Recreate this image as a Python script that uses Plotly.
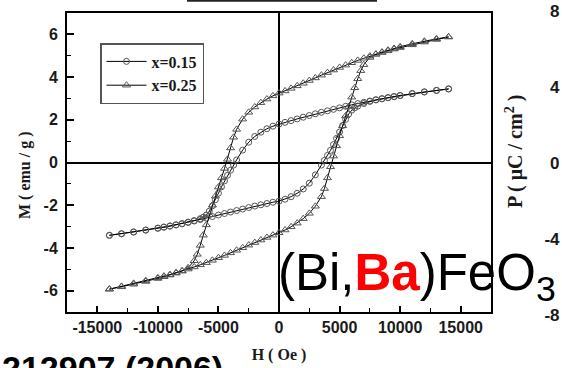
import plotly.graph_objects as go

# ---------------- data ----------------
# x = 0.15 (circles) : descending branch then ascending branch
H_015_DOWN = [14000, 13000, 12000, 11000,
              10000, 9500, 9000, 8500, 8000, 7500, 7000, 6500, 6000, 5500,
              5000, 4500, 4000, 3500, 3000, 2500, 2000, 1500, 1000, 500,
              0, -500, -1000, -1500, -2000, -2500, -3000, -3500,
              -3750, -4000, -4250, -4500, -4750, -5000, -5250, -5500, -5750, -6000, -6250, -6500,
              -7000, -7500, -8000, -8500, -9000, -9500, -10000,
              -11000, -12000, -13000, -14000]
M_015_DOWN = [3.45, 3.38, 3.31, 3.23,
              3.14, 3.09, 3.04, 2.99, 2.94, 2.88, 2.82, 2.76, 2.70, 2.63,
              2.56, 2.49, 2.42, 2.35, 2.28, 2.20, 2.12, 2.04, 1.96, 1.88,
              1.80, 1.70, 1.58, 1.42, 1.22, 0.95, 0.58, 0.12,
              -0.12, -0.36, -0.60, -0.86, -1.14, -1.44, -1.74, -2.03, -2.28, -2.46, -2.56, -2.63,
              -2.72, -2.79, -2.86, -2.92, -2.97, -3.02, -3.07,
              -3.16, -3.25, -3.33, -3.41]
H_015_UP = [-14000, -13000, -12000, -11000,
            -10000, -9500, -9000, -8500, -8000, -7500, -7000, -6500, -6000, -5500,
            -5000, -4500, -4000, -3500, -3000, -2500, -2000, -1500, -1000, -500,
            0, 500, 1000, 1500, 2000, 2500, 3000, 3500,
            3750, 4000, 4250, 4500, 4750, 5000, 5250, 5500, 5750, 6000, 6250, 6500,
            7000, 7500, 8000, 8500, 9000, 9500, 10000,
            11000, 12000, 13000, 14000]
M_015_UP = [-3.41, -3.34, -3.26, -3.17,
            -3.08, -3.03, -2.98, -2.92, -2.87, -2.81, -2.74, -2.67, -2.60, -2.53,
            -2.46, -2.39, -2.32, -2.25, -2.18, -2.11, -2.04, -1.98, -1.92, -1.86,
            -1.81, -1.72, -1.60, -1.44, -1.24, -0.97, -0.58, -0.12,
            0.10, 0.33, 0.57, 0.84, 1.13, 1.43, 1.73, 2.02, 2.27, 2.45, 2.56, 2.64,
            2.76, 2.86, 2.93, 2.98, 3.03, 3.08, 3.13,
            3.22, 3.30, 3.37, 3.44]

# x = 0.25 (triangles)
H_025_DOWN = [14000, 13000, 12000, 11000, 10000,
              9500, 9000, 8500, 8000, 7500, 7000, 6500, 6000, 5500, 5000, 4500, 4000, 3500,
              3000, 2500, 2000, 1500, 1000, 500, 0, -500, -1000, -1500, -2000, -2500, -3000, -3500,
              -3750, -4000, -4250, -4500, -4750, -5000, -5250, -5500, -5750, -6000, -6250, -6500, -6750, -7000,
              -7500, -8000, -8500, -9000, -9500, -10000,
              -11000, -12000, -13000, -14000]
M_025_DOWN = [5.88, 5.76, 5.64, 5.51, 5.38,
              5.31, 5.23, 5.15, 5.07, 4.98, 4.88, 4.78, 4.67, 4.56, 4.45, 4.33, 4.21, 4.09,
              3.96, 3.84, 3.71, 3.59, 3.47, 3.35, 3.25, 3.12, 2.97, 2.80, 2.60, 2.35, 2.03, 1.55,
              1.18, 0.68, 0.15, -0.28, -0.72, -1.15, -1.58, -2.00, -2.45, -2.92, -3.40, -3.88, -4.30, -4.60,
              -4.93, -5.08, -5.18, -5.27, -5.35, -5.43,
              -5.57, -5.70, -5.82, -5.93]
H_025_UP = [-14000, -13000, -12000, -11000, -10000,
            -9500, -9000, -8500, -8000, -7500, -7000, -6500, -6000, -5500, -5000, -4500, -4000, -3500,
            -3000, -2500, -2000, -1500, -1000, -500, 0, 500, 1000, 1500, 2000, 2500, 3000, 3500,
            3750, 4000, 4250, 4500, 4750, 5000, 5250, 5500, 5750, 6000, 6250, 6500, 6750, 7000,
            7500, 8000, 8500, 9000, 9500, 10000,
            11000, 12000, 13000, 14000]
M_025_UP = [-5.93, -5.80, -5.66, -5.53, -5.40,
            -5.32, -5.25, -5.16, -5.08, -4.99, -4.89, -4.79, -4.69, -4.58, -4.46, -4.35, -4.23, -4.11,
            -3.99, -3.87, -3.75, -3.63, -3.51, -3.40, -3.29, -3.16, -3.01, -2.84, -2.63, -2.38, -2.05, -1.60,
            -1.22, -0.72, -0.20, 0.30, 0.78, 1.25, 1.72, 2.18, 2.62, 3.06, 3.50, 3.92, 4.30, 4.58,
            4.92, 5.07, 5.17, 5.26, 5.34, 5.42,
            5.56, 5.68, 5.79, 5.88]

SERIES_NAMES = ["x=0.15", "x=0.25"]

X_TICKVALS = [-15000, -10000, -5000, 0, 5000, 10000, 15000]
X_TICKTEXT = ["-15000", "-10000", "-5000", "0", "5000", "10000", "15000"]
Y_TICKVALS = [-6, -4, -2, 0, 2, 4, 6]
Y_TICKTEXT = ["-6", "-4", "-2", "0", "2", "4", "6"]
P_TICKVALS = [8, 4, 0, -4, -8]
P_TICKTEXT = ["8", "4", "0", "-4", "-8"]

X_TITLE = "H ( Oe )"
Y_TITLE = "M ( emu / g )"
P_TITLE = "P ( μC / cm<sup>2</sup> )"
FORMULA = "(Bi,<b><span style='color:#ff0000'>Ba</span></b>)FeO<sub>3</sub>"
CITATION = "212907 (2006)"

# ---------------- layout helpers ----------------
W, HGT = 562, 368
ML, MR, MT, MB = 67, 0, 10, 40
PW, PH = W - ML - MR, HGT - MT - MB


def fx(px):
    return (px - ML) / PW


def fy(py):
    return (HGT - MB - py) / PH


fig = go.Figure()
fig.add_trace(go.Scatter(
    x=H_015_DOWN + H_015_UP, y=M_015_DOWN + M_015_UP, name=SERIES_NAMES[0],
    mode="lines+markers", line=dict(color="black", width=1),
    marker=dict(symbol="circle-open", size=6, color="#555555", line=dict(width=1))))
fig.add_trace(go.Scatter(
    x=H_025_DOWN + H_025_UP, y=M_025_DOWN + M_025_UP, name=SERIES_NAMES[1],
    mode="lines+markers", line=dict(color="black", width=1),
    marker=dict(symbol="triangle-up-open", size=7, color="#555555", line=dict(width=1))))
# empty trace so that the partial right-hand P axis is drawn
fig.add_trace(go.Scatter(x=[], y=[], xaxis="x2", yaxis="y2", showlegend=False, hoverinfo="skip"))

tickfont = dict(family="Liberation Sans", size=16, color="#1a1a1a", weight="bold")
serif = dict(family="Liberation Serif", size=16, color="#1a1a1a", weight="bold")

fig.update_layout(
    width=W, height=HGT, margin=dict(l=ML, r=MR, t=MT, b=MB),
    paper_bgcolor="white", plot_bgcolor="white",
    showlegend=True,
    legend=dict(x=fx(100), y=fy(43), xanchor="left", yanchor="top",
                bgcolor="white", bordercolor="#555", borderwidth=1.5,
                font=dict(family="Liberation Serif", size=16, color="#1a1a1a", weight="bold"),
                itemwidth=40, tracegroupgap=0),
    xaxis=dict(domain=[0, fx(491)], range=[-17500, 17500],
               tickmode="array", tickvals=X_TICKVALS, ticktext=X_TICKTEXT,
               ticks="inside", ticklen=6, tickwidth=1.5, tickcolor="black",
               minor=dict(dtick=2500, tick0=0, ticks="inside", ticklen=4, tickwidth=1.2, tickcolor="black"),
               showline=True, linewidth=2, linecolor="black", mirror=True,
               zeroline=True, zerolinecolor="black", zerolinewidth=1.5,
               showgrid=False, tickfont=tickfont,
               title=dict(text=X_TITLE, font=dict(family="Liberation Serif", size=16, color="#1a1a1a", weight="bold"), standoff=14)),
    yaxis=dict(domain=[fy(312), fy(13)], range=[-7, 7],
               tickmode="array", tickvals=Y_TICKVALS, ticktext=Y_TICKTEXT,
               ticks="inside", ticklen=7, tickwidth=1.5, tickcolor="black",
               minor=dict(dtick=1, tick0=0, ticks="inside", ticklen=4, tickwidth=1.2, tickcolor="black"),
               showline=True, linewidth=2, linecolor="black", mirror=True,
               zeroline=True, zerolinecolor="black", zerolinewidth=1.5,
               showgrid=False, tickfont=tickfont, ticklabelstandoff=4),
    xaxis2=dict(domain=[0.997, 1], anchor="y2", visible=False, range=[0, 1]),
    yaxis2=dict(domain=[0, 1], anchor="x2", side="left", range=[-8.68, 8.05],
                tickmode="array", tickvals=P_TICKVALS, ticktext=P_TICKTEXT,
                ticks="", showline=False, zeroline=False, showgrid=False,
                tickfont=dict(family="Liberation Sans", size=17, color="#1a1a1a", weight="bold")),
)

fig.add_annotation(text=Y_TITLE, xref="paper", yref="paper", x=fx(25), y=fy(175),
                   xanchor="center", yanchor="middle",
                   textangle=-90, showarrow=False, font=serif)
fig.add_annotation(text=P_TITLE, xref="paper", yref="paper", x=fx(514), y=fy(152),
                   xanchor="center", yanchor="middle",
                   textangle=-90, showarrow=False,
                   font=dict(family="Liberation Serif", size=20, color="#1a1a1a", weight="bold"))
fig.add_annotation(text=FORMULA, xref="paper", yref="paper", x=fx(276), y=fy(276),
                   xanchor="left", yanchor="middle", showarrow=False,
                   font=dict(family="Liberation Sans", size=51, color="black"))
fig.add_annotation(text="<b>" + CITATION + "</b>", xref="paper", yref="paper", x=fx(0), y=fy(347),
                   xanchor="left", yanchor="top", showarrow=False,
                   font=dict(family="Liberation Sans", size=34, color="black"))
fig.add_shape(type="line", xref="paper", yref="paper", x0=fx(187), x1=fx(377),
              y0=fy(0.8), y1=fy(0.8), line=dict(color="#222", width=2))

fig.write_html("out.html", config={"displayModeBar": False},
               post_script="document.body.style.margin='0px';")
